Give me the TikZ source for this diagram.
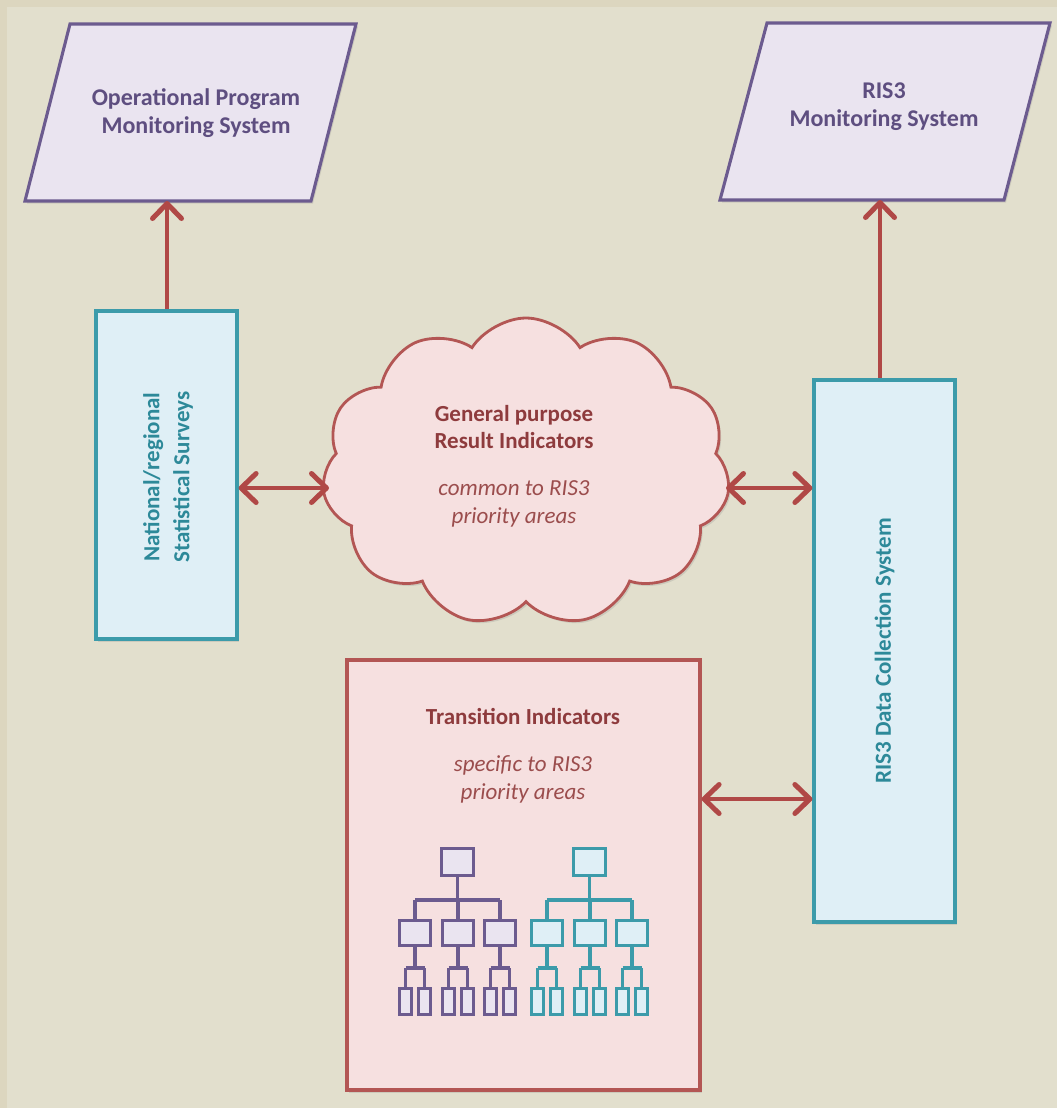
\documentclass[tikz,border=0pt]{standalone}
\usepackage{fontspec}
\setmainfont{Carlito}
\usetikzlibrary{arrows.meta,shapes.symbols,shadows,calc}
\definecolor{bgc}{HTML}{E2DFCD}
\definecolor{bgedge}{HTML}{DCD6BF}
\definecolor{lavfill}{HTML}{EAE4F0}
\definecolor{lavline}{HTML}{6C5B8F}
\definecolor{lavtext}{HTML}{5E4E80}
\definecolor{bluefill}{HTML}{DFEFF6}
\definecolor{blueline}{HTML}{3C9BAA}
\definecolor{bluetext}{HTML}{2D8999}
\definecolor{pinkfill}{HTML}{F6E0E0}
\definecolor{pinkline}{HTML}{B35654}
\definecolor{pinktext}{HTML}{8E3B3D}
\definecolor{pinkital}{HTML}{9B4D4D}
\definecolor{arrowred}{HTML}{B04846}
\tikzset{
  shade/.style={drop shadow={opacity=0.22,shadow xshift=2pt,shadow yshift=-2.5pt}},
  paral/.style={draw=lavline,line width=3.1pt,fill=lavfill,line join=miter,shade},
  paratext/.style={align=center,text=lavtext,font=\bfseries\fontsize{24}{28}\selectfont},
  bluebox/.style={draw=blueline,line width=3.2pt,fill=bluefill,shade},
  bluetextst/.style={align=center,text=bluetext,font=\bfseries\fontsize{23}{30}\selectfont,rotate=90},
  pinkbox/.style={draw=pinkline,line width=3.2pt,fill=pinkfill,shade},
  pinkbold/.style={align=center,text=pinktext,font=\bfseries\fontsize{23}{27}\selectfont},
  pinkit/.style={align=center,text=pinkital,font=\itshape\fontsize{23}{28}\selectfont},
  barb/.tip={Straight Barb[length=15pt,width=29pt,line width=5pt,round]},
  conn/.style={draw=arrowred,line width=3.5pt,arrows={-barb}},
  biconn/.style={draw=arrowred,line width=3.5pt,arrows={barb-barb}},
}
\newcommand\drawhier[4]{%
  \begin{scope}[shift={(#1,#2)},line width=3.4pt]
    \draw[draw=#3] (17.5,28.5) -- (17.5,53) (-25,53) -- (60,53);
    \foreach \mx in {-25,18,60}{
      \draw[draw=#3] (\mx,53) -- (\mx,73.5) (\mx,98.5) -- (\mx,121) (\mx-9.5,121) -- (\mx+9.5,121)
        (\mx-9.5,121) -- (\mx-9.5,141.5) (\mx+9.5,121) -- (\mx+9.5,141.5);
      \draw[draw=#3,fill=#4] (\mx-15.5,73.5) rectangle (\mx+15.5,98.5);
      \draw[draw=#3,fill=#4] (\mx-15.5,141.5) rectangle (\mx-3.5,167.5);
      \draw[draw=#3,fill=#4] (\mx+3.5,141.5) rectangle (\mx+15.5,167.5);
    }
    \draw[draw=#3,fill=#4] (1.5,1.5) rectangle (33.5,28.5);
  \end{scope}}
\begin{document}
\begin{tikzpicture}[x=1pt,y=-1pt]
\fill[bgedge] (0,0) rectangle (1057,1108);
\fill[bgc] (7,7) rectangle (1057,1108);
\useasboundingbox (0,0) rectangle (1057,1108);

% parallelograms
\draw[paral] (70,24) -- (356,24) -- (311,201) -- (25,201) -- cycle;
\node[paratext] (optext) at (196,113) {Operational Program\\Monitoring System};
\coordinate (opbot) at (167,201);
\draw[paral] (767,23) -- (1050,23) -- (1004,200) -- (720,200) -- cycle;
\node[paratext] (ristext) at (884,107) {RIS3\\Monitoring System};
\coordinate (risbot) at (880,200);

% left box
\node[bluebox,minimum width=141pt,minimum height=328pt] (nss) at (166.5,475) {};
\node[bluetextst] (nsstext) at (168,477) {National/regional\\Statistical Surveys};

% right box
\node[bluebox,minimum width=141pt,minimum height=542pt] (rds) at (884.5,651) {};
\node[bluetextst] (rdstext) at (rds.center) {RIS3 Data Collection System};

% cloud
\node[cloud,cloud puffs=11,cloud puff arc=115,aspect=1.35,minimum width=408pt,minimum height=308pt,
      draw=pinkline,line width=2.8pt,fill=pinkfill,shade] (gp) at (526,472) {};
\node[pinkbold] (gptitle) at (514,427) {General purpose\\Result Indicators};
\node[pinkit] (gpsub) at (514,504) {common to RIS3\\priority areas};

% transition box
\node[pinkbox,minimum width=353pt,minimum height=430pt] (ti) at (523.5,875) {};
\node[pinkbold] (tititle) at (523,716) {Transition Indicators};
\node[pinkit] (tisub) at (523,779) {specific to RIS3\\priority areas};

\drawhier{440}{847}{lavline}{lavfill}
\drawhier{572}{847}{blueline}{bluefill}

% connectors
\draw[conn] (nss.north -| opbot) -- (opbot);
\draw[conn] (rds.north -| risbot) -- (risbot);
\draw[biconn] (nss.east |- 0,488) -- (329,488);
\draw[biconn] (726,488) -- (rds.west |- 0,488);
\draw[biconn] (ti.east |- 0,799) -- (rds.west |- 0,799);
\end{tikzpicture}
\end{document}
